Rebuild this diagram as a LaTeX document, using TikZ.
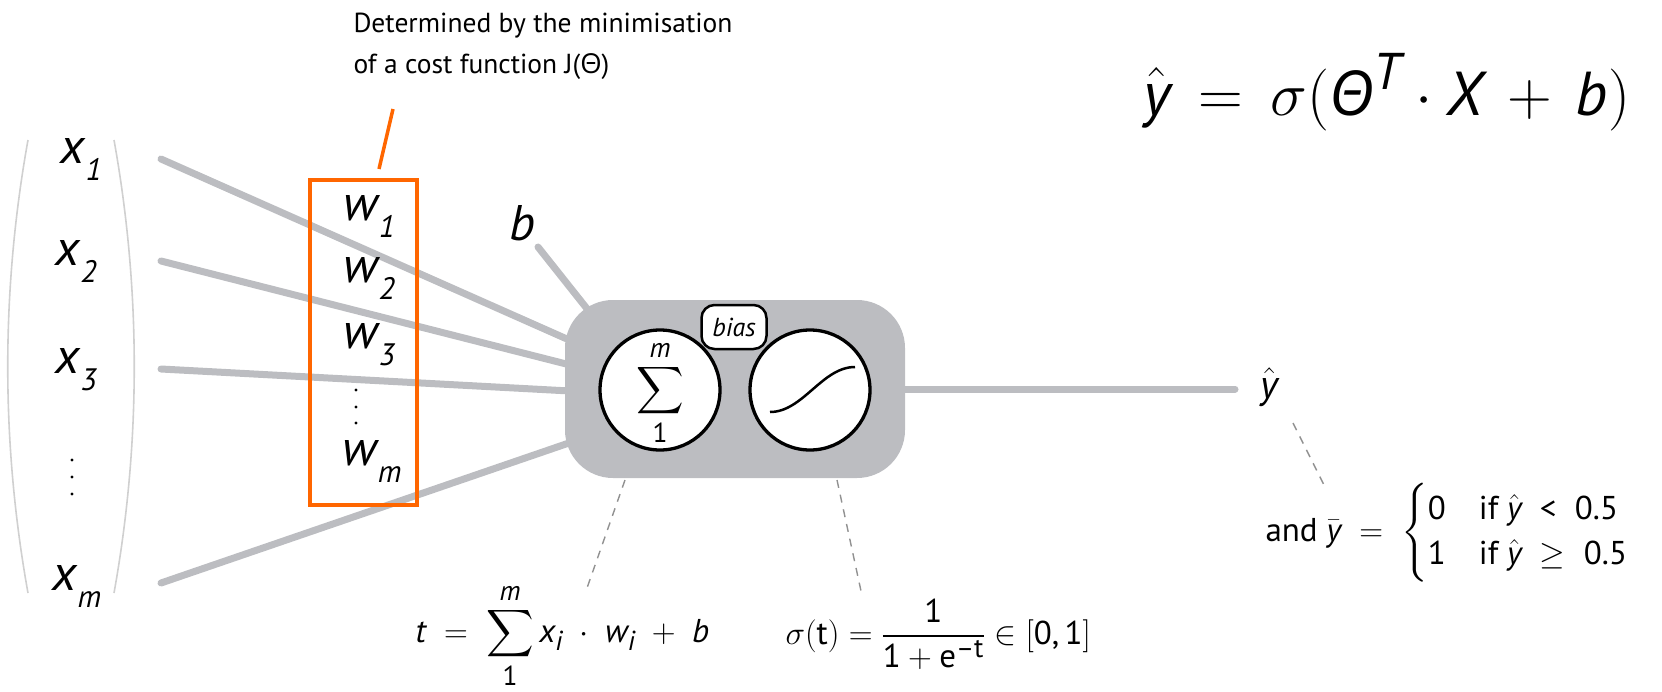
\RequirePackage{fix-cm}
\documentclass[tikz,border=0pt]{standalone}
\usepackage{amsmath}
\usepackage{fontspec}
\setmainfont{PT Sans}
\newfontfamily\greekfont{Open Sans}
\usepackage[italic]{mathastext}
\DeclareFontShape{OMX}{cmex}{m}{n}{<->cmex10}{}
\usetikzlibrary{positioning}

\definecolor{wiregray}{RGB}{188,189,193}
\definecolor{costorange}{RGB}{255,102,0}
\definecolor{bracketgray}{RGB}{208,208,208}
\definecolor{guidegray}{RGB}{145,145,145}

\newcommand{\sublabel}[2]{\fontsize{50}{50}\selectfont\itshape #1\kern1pt\raisebox{-17pt}{\fontsize{31}{31}\selectfont #2}}

\tikzset{every picture/.style={line width=1pt}}
\tikzset{
  wire/.style={draw=wiregray, line width=7pt, line cap=round},
  bracket/.style={draw=bracketgray, line width=1.6pt},
  guide/.style={draw=guidegray, line width=1.4pt, dash pattern=on 8pt off 7pt},
  unit/.style={circle, draw=black, fill=white, line width=3.3pt, minimum size=120pt, inner sep=0pt},
  inlabel/.style={anchor=base west, inner sep=0pt},
  formula/.style={anchor=west, inner sep=0pt, font=\fontsize{33}{38}\selectfont},
}

\begin{document}
\begin{tikzpicture}[x=1pt,y=1pt,yscale=-1]
\useasboundingbox (0,0) rectangle (1662,691);

% input vector brackets
\draw[bracket] (28,140) .. controls (1,290) and (1,443) .. (28,593);
\draw[bracket] (114,140) .. controls (141,290) and (141,443) .. (114,593);

% inputs
\node[inlabel] (x1) at (60,163) {\sublabel{x}{1}};
\node[inlabel] (x2) at (55,265) {\sublabel{x}{2}};
\node[inlabel] (x3) at (55,373) {\sublabel{x}{3}};
\node[inlabel] (xm) at (52,590) {\sublabel{x}{m}};
\foreach \y in {460,477,494} \fill (72,\y) circle (1.7);

% wires into the neuron
\coordinate (in1) at (161,159);
\coordinate (in2) at (161,261);
\coordinate (in3) at (161,369);
\coordinate (inm) at (161,583);
\coordinate (hub) at (700,398);
\draw[wire] (in1) -- (hub);
\draw[wire] (in2) -- (hub);
\draw[wire] (in3) -- (hub);
\draw[wire] (inm) -- (hub);
\node[inlabel, font=\fontsize{50}{50}\selectfont\itshape] (b) at (509,240) {b};
\coordinate (bpin) at (538,247);
\coordinate (bhub) at (615,344);
\draw[wire] (bpin) -- (bhub);

% weights
\node[draw=costorange, line width=4pt, minimum width=107pt, minimum height=325pt, inner sep=0pt] (wbox) at (363.5,342.5) {};
\node[inlabel] (w1) at (343,220) {\sublabel{w}{1}};
\node[inlabel] (w2) at (343,282) {\sublabel{w}{2}};
\node[inlabel] (w3) at (343,348) {\sublabel{w}{3}};
\node[inlabel] (wm) at (342,465) {\sublabel{w}{m}};
\foreach \y in {390,407,423} \fill (356,\y) circle (1.7);

% cost note
\node[anchor=north west, align=left, inner sep=0pt, font=\fontsize{27.5}{41}\selectfont] (costnote) at (353,13) {Determined by the minimisation\\of a cost function J({\greekfont Θ})};
\coordinate (notetip) at (393,109);
\coordinate (boxtip) at (379,169);
\draw[costorange, line width=3.5pt] (notetip) -- (boxtip);

% neuron
\node[fill=wiregray, rounded corners=48pt, minimum width=340pt, minimum height=178pt, inner sep=0pt] (neuron) at (735,389) {};
\node[unit] (sum) at (660,390) {};
\node[font=\fontsize{33}{38}\selectfont, inner sep=0pt] (sumsign) at (660,393) {$\displaystyle\sum_{\mathrm{1}}^{m}$};
\node[unit] (act) at (810,390) {};
\draw[line width=2.5pt] (770,412) .. controls (803,412) and (822,367) .. (855,367);
\node[draw, fill=white, line width=2.5pt, rounded corners=13pt, minimum width=65pt, minimum height=44pt, inner sep=0pt, font=\fontsize{26}{26}\selectfont\itshape] (bias) at (734,327) {bias};

% output
\node[anchor=base west, inner sep=0pt, font=\fontsize{40}{40}\selectfont] (yhat) at (1260,398) {$\hat{y}$};
\draw[wire, shorten >=25pt] (neuron.east) -- (neuron.east -| yhat.west);

% model
\node[anchor=base west, inner sep=0pt, font=\fontsize{62}{64}\selectfont] (model) at (1143,115) {$\hat{y} \,=\, \sigma(\mbox{\greekfont\itshape Θ}^{T} \cdot X \,+\, b)$};

% explanations
\node[formula] (tsum) at (415,636) {$t \;=\; \displaystyle\sum_{\mathrm{1}}^{m} x_i \;\cdot\; w_i \;+\; b$};
\node[formula] (tsig) at (785,634) {$\sigma(\mathrm{t}) = \dfrac{\mathrm{1}}{\mathrm{1}+\mathrm{e}^{-\mathrm{t}}} \in [\mathrm{0},\mathrm{1}]$};
\node[formula] (ybar) at (1265,533) {$\mathrm{and}\ \bar{y} \;=\; \begin{cases} \mathrm{0} & \mathrm{if}\ \hat{y} \;<\; \mathrm{0.5}\\ \mathrm{1} & \mathrm{if}\ \hat{y} \;\geq\; \mathrm{0.5}\end{cases}$};
\coordinate (sumfoot) at (625,480);
\coordinate (tsumtop) at (587,588);
\coordinate (actfoot) at (837,480);
\coordinate (tsigtop) at (861,591);
\coordinate (yhatfoot) at (1293,423);
\coordinate (ybartop) at (1325,487);
\draw[guide] (sumfoot) -- (tsumtop);
\draw[guide] (actfoot) -- (tsigtop);
\draw[guide] (yhatfoot) -- (ybartop);

\end{tikzpicture}
\end{document}
